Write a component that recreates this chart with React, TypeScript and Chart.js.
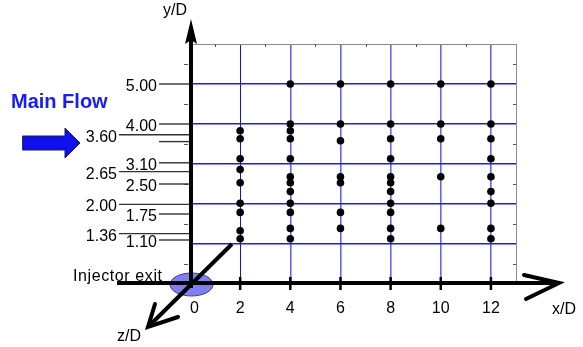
import React, { useEffect, useRef } from 'react';
import { Chart, registerables } from 'chart.js';

Chart.register(...registerables);

const FONT = '"Liberation Sans", Arial, sans-serif';

// Measurement stations (x/D) and the probe heights (y/D) measured at each
const columnX = [2, 4, 6, 8, 10, 12];
const yAtX2 = [3.83, 3.63, 3.13, 2.86, 2.53, 2.02, 1.79, 1.33, 1.13];
const yAtX4 = [5.0, 4.0, 3.83, 3.63, 3.13, 2.68, 2.53, 2.31, 2.02, 1.79, 1.39, 1.13];
const yAtX6 = [5.0, 4.0, 3.58, 2.68, 2.53, 1.79, 1.39];
const yAtX8 = [5.0, 4.0, 3.63, 3.13, 2.68, 2.53, 2.31, 2.02, 1.79, 1.39, 1.13];
const yAtX10 = [5.0, 4.0, 3.63, 2.68, 1.39];
const yAtX12 = [5.0, 4.0, 3.63, 3.13, 2.68, 2.31, 2.02, 1.39, 1.13];
const columnY = [yAtX2, yAtX4, yAtX6, yAtX8, yAtX10, yAtX12];

// Axis ticks
const xTicks = [0, 2, 4, 6, 8, 10, 12];
const xMax = 13;
const yTicks = [0, 1, 2, 3, 4, 5, 6];

// Left-hand y/D labels with their leader lines
const yLabelTexts = ['5.00', '4.00', '3.60', '3.10', '2.65', '2.50', '2.00', '1.75', '1.36', '1.10'];
const yLabelLevels = [5.0, 4.0, 3.73, 3.03, 2.81, 2.5, 1.99, 1.75, 1.26, 1.1];
const yLabelOuter = [false, false, true, false, true, false, true, false, true, false];
const extraLeaderLevels = [3.56];

export default function App() {
  const ref = useRef<HTMLCanvasElement>(null);

  useEffect(() => {
    if (!ref.current) return;
    const points: { x: number; y: number }[] = [];
    columnX.forEach((x, i) => columnY[i].forEach((y) => points.push({ x, y })));

    const deco = {
      id: 'deco',
      afterDraw(chart: any) {
        const ctx: CanvasRenderingContext2D = chart.ctx;
        const xs = chart.scales.x;
        const ys = chart.scales.y;
        const X = (v: number) => xs.getPixelForValue(v);
        const Y = (v: number) => ys.getPixelForValue(v);
        const x0 = X(0);
        const y0 = Y(0);
        ctx.save();

        // minor ticks on the box
        ctx.strokeStyle = '#555';
        ctx.lineWidth = 1;
        ctx.beginPath();
        for (let k = 1; k < xMax; k += 2) {
          ctx.moveTo(Math.round(X(k)) + 0.5, Y(6));
          ctx.lineTo(Math.round(X(k)) + 0.5, Y(6) + 3);
        }
        for (let v = 0.5; v < 6; v += 1) {
          ctx.moveTo(X(xMax), Math.round(Y(v)) + 0.5);
          ctx.lineTo(X(xMax) - 3, Math.round(Y(v)) + 0.5);
          ctx.moveTo(x0 - 2, Math.round(Y(v)) + 0.5);
          ctx.lineTo(x0 - 6, Math.round(Y(v)) + 0.5);
        }
        ctx.stroke();

        // leader lines + labels
        ctx.strokeStyle = '#333';
        ctx.lineWidth = 1.4;
        ctx.fillStyle = '#000';
        ctx.font = `16px ${FONT}`;
        ctx.textAlign = 'right';
        ctx.textBaseline = 'middle';
        yLabelTexts.forEach((t, i) => {
          const yy = Y(yLabelLevels[i]);
          const outer = yLabelOuter[i];
          ctx.beginPath();
          ctx.moveTo(outer ? x0 - 71 : x0 - 31, yy);
          ctx.lineTo(x0, yy);
          ctx.stroke();
          ctx.fillText(t, outer ? x0 - 73 : x0 - 33, yy + 2.5);
        });
        extraLeaderLevels.forEach((lv) => {
          const yy = Y(lv);
          ctx.beginPath();
          ctx.moveTo(x0 - 31, yy);
          ctx.lineTo(x0, yy);
          ctx.stroke();
        });

        // injector exit ellipse
        ctx.beginPath();
        ctx.ellipse(x0 + 1.5, y0 + 0.5, 21.5, 11.5, 0, 0, Math.PI * 2);
        ctx.fillStyle = '#7f7ff2';
        ctx.fill();
        ctx.strokeStyle = '#3a3a8a';
        ctx.lineWidth = 1;
        ctx.stroke();

        // x axis with arrow
        ctx.strokeStyle = '#000';
        ctx.fillStyle = '#000';
        ctx.lineWidth = 4;
        ctx.lineCap = 'butt';
        ctx.beginPath();
        ctx.moveTo(117, y0 - 1);
        ctx.lineTo(X(xMax) + 40, y0 - 1);
        ctx.stroke();
        ctx.lineCap = 'round';
        ctx.lineJoin = 'miter';
        ctx.beginPath();
        ctx.moveTo(X(xMax) + 8, y0 - 9);
        ctx.lineTo(X(xMax) + 43, y0 - 1);
        ctx.lineTo(X(xMax) + 10, y0 + 15);
        ctx.stroke();

        // x tick marks
        ctx.lineCap = 'butt';
        ctx.lineWidth = 2.5;
        ctx.beginPath();
        xTicks.forEach((v) => {
          if (v === 0) return;
          ctx.moveTo(X(v), y0 - 7);
          ctx.lineTo(X(v), y0 + 6);
        });
        ctx.stroke();

        // y axis with arrow
        ctx.lineWidth = 4;
        ctx.beginPath();
        ctx.moveTo(x0 + 1, y0 + 4);
        ctx.lineTo(x0 + 1, 36);
        ctx.stroke();
        ctx.beginPath();
        ctx.moveTo(x0 + 1, 19);
        ctx.lineTo(x0 + 7, 44);
        ctx.lineTo(x0 + 1, 40);
        ctx.lineTo(x0 - 5, 44);
        ctx.closePath();
        ctx.fill();

        // z axis (diagonal) with arrow
        ctx.lineWidth = 4;
        ctx.lineCap = 'butt';
        ctx.beginPath();
        ctx.moveTo(x0 + 42, y0 - 40);
        ctx.lineTo(x0 - 41, y0 + 42);
        ctx.stroke();
        ctx.lineCap = 'round';
        ctx.beginPath();
        ctx.moveTo(x0 - 35, y0 + 20);
        ctx.lineTo(x0 - 42, y0 + 43);
        ctx.lineTo(x0 - 12, y0 + 33);
        ctx.stroke();

        // axis titles and notes
        ctx.fillStyle = '#000';
        ctx.font = `16px ${FONT}`;
        ctx.textBaseline = 'middle';
        ctx.textAlign = 'right';
        ctx.fillText('y/D', x0 - 3, 11);
        ctx.textAlign = 'left';
        ctx.fillText('x/D', X(xMax) + 36, y0 + 26);
        ctx.fillText('z/D', x0 - 73, y0 + 53);
        (ctx as any).letterSpacing = '0.6px';
        ctx.fillText('Injector exit', 73, y0 - 7);
        (ctx as any).letterSpacing = '0px';

        // main flow label + arrow
        ctx.fillStyle = '#1a1aff';
        ctx.font = `bold 20px ${FONT}`;
        ctx.fillText('Main Flow', 11, 102);
        ctx.beginPath();
        ctx.moveTo(23, 136);
        ctx.lineTo(65, 136);
        ctx.lineTo(65, 128);
        ctx.lineTo(80, 143);
        ctx.lineTo(65, 158);
        ctx.lineTo(65, 150);
        ctx.lineTo(23, 150);
        ctx.closePath();
        ctx.fillStyle = '#0f0fef';
        ctx.fill();
        ctx.strokeStyle = '#1a1a5a';
        ctx.lineWidth = 1;
        ctx.lineJoin = 'miter';
        ctx.stroke();

        ctx.restore();
      },
    };

    const chart = new Chart(ref.current, {
      type: 'scatter',
      data: {
        datasets: [
          {
            data: points,
            pointRadius: 3.8,
            pointBackgroundColor: '#000',
            pointBorderColor: '#000',
            pointBorderWidth: 0,
          },
        ],
      },
      options: {
        animation: false,
        responsive: false,
        events: [],
        layout: { padding: { left: 190, top: 44, right: 67, bottom: 0 } },
        plugins: { legend: { display: false }, tooltip: { enabled: false } },
        scales: {
          x: {
            type: 'linear',
            min: 0,
            max: xMax,
            afterBuildTicks: (s: any) => {
              s.ticks = [...xTicks, xMax].map((v) => ({ value: v }));
            },
            afterFit: (s: any) => {
              s.height = 63;
            },
            border: { display: false },
            grid: {
              drawTicks: false,
              color: (c: any) => {
                const v = c.tick ? c.tick.value : -1;
                if (v === 0) return 'rgba(0,0,0,0)';
                if (v === xMax) return '#8c8c8c';
                if (v === 2) return '#1414d8';
                return 'rgba(60,60,255,0.8)';
              },
              lineWidth: (c: any) => {
                const v = c.tick ? c.tick.value : -1;
                if (v === xMax || v === 2) return 1;
                return 1.6;
              },
            },
            ticks: {
              autoSkip: false,
              maxRotation: 0,
              padding: 15,
              color: '#000',
              font: { family: FONT, size: 16 },
              callback: (v: any) => (v === xMax ? '' : v === 0 ? '  0' : String(v)),
            },
          },
          y: {
            type: 'linear',
            min: 0,
            max: 6,
            afterBuildTicks: (s: any) => {
              s.ticks = yTicks.map((v) => ({ value: v }));
            },
            afterFit: (s: any) => {
              s.width = 0;
            },
            border: { display: false },
            ticks: { display: false },
            grid: {
              drawTicks: false,
              color: (c: any) => {
                const v = c.tick ? c.tick.value : -1;
                if (v === 0) return 'rgba(0,0,0,0)';
                if (v === 6) return '#8c8c8c';
                return '#1a1aff';
              },
              lineWidth: (c: any) => {
                const v = c.tick ? c.tick.value : -1;
                return v === 6 ? 1 : 1.5;
              },
            },
          },
        },
      },
      plugins: [deco],
    } as any);

    return () => chart.destroy();
  }, []);

  return (
    <div style={{ position: 'absolute', left: 0, top: 0, width: 583, height: 347, background: '#fff' }}>
      <canvas ref={ref} width={583} height={347} style={{ display: 'block', width: 583, height: 347 }} />
    </div>
  );
}
